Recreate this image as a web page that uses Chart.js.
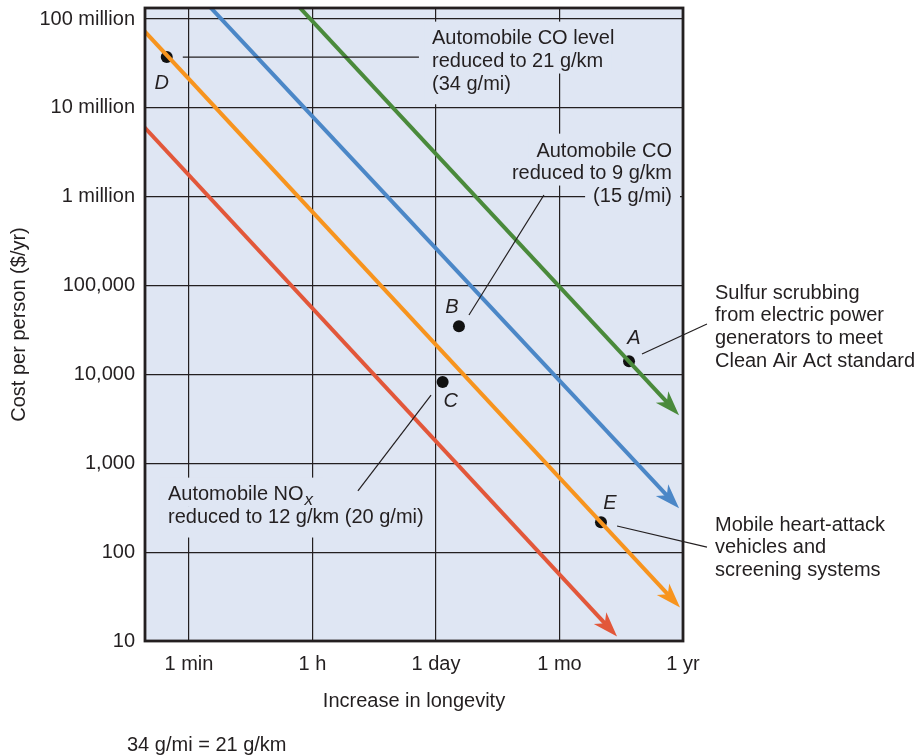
<!DOCTYPE html>
<html>
<head>
<meta charset="utf-8">
<script src="https://cdn.jsdelivr.net/npm/chart.js@4.4.1/dist/chart.umd.min.js"></script>
<style>
  html, body { margin: 0; padding: 0; background: #ffffff; }
  #wrap { position: relative; width: 918px; height: 755px; }
</style>
</head>
<body>
<div id="wrap"><canvas id="chart"></canvas></div>
<script>
// x axis: evenly spaced time steps (0 = 1 min ... 4 = 1 yr)
var timeLabels = ['1 min', '1 h', '1 day', '1 mo', '1 yr'];
var costTicks = [10, 100, 1000, 10000, 100000, 1000000, 10000000, 100000000];
var costLabels = ['10', '100', '1,000', '10,000', '100,000', '1 million', '10 million', '100 million'];

// the four cost lines (start, end of arrow shaft)
var greenX = [0.85, 3.913];
var greenY = [1.58e8, 4200];
var blueX = [0.13, 3.913];
var blueY = [1.57e8, 376];
var orangeX = [-0.40, 3.921];
var orangeY = [8.36e7, 28.8];
var redX = [-0.40, 3.411];
var redY = [6.93e6, 13.6];

// labelled points
var pointNames = ['A', 'B', 'C', 'D', 'E'];
var pointX = [3.563, 2.186, 2.054, -0.18, 3.336];
var pointY = [14100, 34900, 8240, 3.73e7, 217];

const FONT = '"Liberation Sans", Arial, Helvetica, sans-serif';
const INK = '#231f20';
const BG = '#dfe6f3';
const LINE_H = 22.7;

// letter offsets from the dot, in px
var letterOffset = { A: [5, -23], B: [-7, -19], C: [8, 20], D: [-5, 26], E: [9, -19] };

var notes = [
  { x: 1.968, y: 5.96e7, align: 'left', mask: true, lines: ['Automobile CO level', 'reduced to 21 g/km', '(34 g/mi)'] },
  { x: 3.911, y: 3.27e6, align: 'right', mask: true, lines: ['Automobile CO', 'reduced to 9 g/km', '(15 g/mi)'] },
  { x: -0.170, y: 440, align: 'left', mask: true, sub: 'x', lines: ['Automobile NO', 'reduced to 12 g/km (20 g/mi)'] },
  { x: 4.259, y: 82400, align: 'left', mask: false, lines: ['Sulfur scrubbing', 'from electric power', 'generators to meet', 'Clean Air Act standard'] },
  { x: 4.259, y: 202, align: 'left', mask: false, lines: ['Mobile heart-attack', 'vehicles and', 'screening systems'] }
];

var leaders = [
  [-0.05, 3.73e7, 1.862, 3.73e7],
  [2.267, 46700, 2.874, 1.045e6],
  [3.668, 17000, 4.194, 36900],
  [3.466, 197, 4.194, 114],
  [1.960, 5860, 1.368, 488]
];

function toXY(xs, ys) {
  var out = [];
  for (var i = 0; i < xs.length; i++) out.push({ x: xs[i], y: ys[i] });
  return out;
}

function lineSet(xs, ys, color) {
  return {
    type: 'line',
    data: toXY(xs, ys),
    borderColor: color,
    backgroundColor: color,
    borderWidth: 4,
    pointRadius: 0,
    borderCapStyle: 'butt',
    clip: 0,
    arrow: true
  };
}

function noPad(scale) {
  scale.paddingTop = 0;
  scale.paddingBottom = 0;
  scale.paddingLeft = 0;
  scale.paddingRight = 0;
}

const notesPlugin = {
  id: 'notes',
  beforeDraw(chart) {
    const a = chart.chartArea, ctx = chart.ctx;
    ctx.save();
    ctx.fillStyle = BG;
    ctx.fillRect(a.left, a.top, a.right - a.left, a.bottom - a.top);
    ctx.restore();
  },
  beforeDatasetsDraw(chart) {
    const ctx = chart.ctx, sx = chart.scales.x, sy = chart.scales.y;
    ctx.save();
    ctx.font = '20px ' + FONT;
    ctx.textBaseline = 'middle';
    notes.forEach(function (n) {
      const x0 = sx.getPixelForValue(n.x);
      const y0 = sy.getPixelForValue(n.y);
      const last = n.lines.length - 1;
      if (n.mask) {
        ctx.fillStyle = BG;
        n.lines.forEach(function (t, i) {
          let w = ctx.measureText(t).width + (n.sub && i === 0 ? 12 : 0);
          let left = n.align === 'left' ? x0 - 8 : x0 - w - 8;
          let top = y0 + i * LINE_H - LINE_H / 2 - (i === 0 ? 6 : 0);
          let h = LINE_H + (i === 0 ? 6 : 0) + (i === last ? 8 : 0);
          ctx.fillRect(left, top, w + 16, h + 0.5);
        });
      }
      ctx.fillStyle = INK;
      ctx.textAlign = n.align;
      n.lines.forEach(function (t, i) {
        ctx.fillText(t, x0, y0 + i * LINE_H);
        if (n.sub && i === 0) {
          const w = ctx.measureText(t).width;
          ctx.font = 'italic 17px ' + FONT;
          ctx.textAlign = 'left';
          ctx.fillText(n.sub, x0 + w + 1, y0 + 5);
          ctx.font = '20px ' + FONT;
          ctx.textAlign = n.align;
        }
      });
    });
    ctx.restore();
  },
  afterDatasetsDraw(chart) {
    const ctx = chart.ctx, sx = chart.scales.x, sy = chart.scales.y, a = chart.chartArea;
    ctx.save();

    // arrowheads
    chart.data.datasets.forEach(function (ds, i) {
      if (!ds.arrow) return;
      const pts = chart.getDatasetMeta(i).data;
      const p1 = pts[pts.length - 2], p2 = pts[pts.length - 1];
      let dx = p2.x - p1.x, dy = p2.y - p1.y;
      const len = Math.sqrt(dx * dx + dy * dy);
      dx /= len; dy /= len;
      const tx = p2.x + dx * 10, ty = p2.y + dy * 10;
      const L = 25, W = 8.5, notch = 7;
      const bx = tx - dx * L, by = ty - dy * L;
      ctx.fillStyle = ds.borderColor;
      ctx.beginPath();
      ctx.moveTo(tx, ty);
      ctx.lineTo(bx - dy * W, by + dx * W);
      ctx.lineTo(tx - dx * (L - notch), ty - dy * (L - notch));
      ctx.lineTo(bx + dy * W, by - dx * W);
      ctx.closePath();
      ctx.fill();
    });

    // leader lines
    ctx.strokeStyle = INK;
    ctx.lineWidth = 1.2;
    leaders.forEach(function (l) {
      ctx.beginPath();
      ctx.moveTo(sx.getPixelForValue(l[0]), sy.getPixelForValue(l[1]));
      ctx.lineTo(sx.getPixelForValue(l[2]), sy.getPixelForValue(l[3]));
      ctx.stroke();
    });

    // point letters
    ctx.fillStyle = INK;
    ctx.font = 'italic 20px ' + FONT;
    ctx.textAlign = 'center';
    ctx.textBaseline = 'middle';
    pointNames.forEach(function (name, i) {
      const off = letterOffset[name];
      ctx.fillText(name, sx.getPixelForValue(pointX[i]) + off[0], sy.getPixelForValue(pointY[i]) + off[1]);
    });

    // frame
    ctx.strokeStyle = INK;
    ctx.lineWidth = 2.8;
    ctx.strokeRect(a.left, a.top, a.right - a.left, a.bottom - a.top);

    // footnote
    ctx.font = '20px ' + FONT;
    ctx.textAlign = 'left';
    ctx.fillText('34 g/mi = 21 g/km', 127, 745);
    ctx.restore();
  }
};

var ctx = document.getElementById('chart');
var myChart = new Chart(ctx, {
  data: {
    datasets: [
      lineSet(redX, redY, '#e2573a'),
      lineSet(orangeX, orangeY, '#f7941e'),
      lineSet(blueX, blueY, '#4b87c7'),
      lineSet(greenX, greenY, '#4a8a3b'),
      {
        type: 'scatter',
        data: toXY(pointX, pointY),
        pointRadius: 6,
        pointBackgroundColor: '#111111',
        pointBorderWidth: 0,
        clip: false
      }
    ]
  },
  options: {
    responsive: true,
    maintainAspectRatio: false,
    animation: false,
    layout: { padding: { top: 8, right: 235, bottom: 0, left: 0 } },
    plugins: { legend: { display: false }, tooltip: { enabled: false } },
    scales: {
      x: {
        type: 'linear',
        min: -0.356,
        max: 4,
        afterBuildTicks: function (scale) {
          scale.ticks = timeLabels.map(function (t, i) { return { value: i }; });
        },
        afterFit: function (scale) { scale.height = 114; noPad(scale); },
        grid: { color: INK, lineWidth: 1.2, drawTicks: false },
        border: { display: false },
        ticks: {
          autoSkip: false,
          maxRotation: 0,
          padding: 11,
          color: INK,
          font: { family: FONT, size: 20 },
          callback: function (v) { return timeLabels[v]; }
        },
        title: {
          display: true,
          text: 'Increase in longevity',
          color: INK,
          font: { family: FONT, size: 20 },
          padding: { top: 0, bottom: 42 }
        }
      },
      y: {
        type: 'logarithmic',
        min: 10,
        max: 1.33e8,
        afterBuildTicks: function (scale) {
          scale.ticks = costTicks.map(function (v) { return { value: v }; });
        },
        afterFit: function (scale) { scale.width = 145; noPad(scale); },
        grid: { color: INK, lineWidth: 1.2, drawTicks: false },
        border: { display: false },
        ticks: {
          autoSkip: false,
          padding: 10,
          color: INK,
          font: { family: FONT, size: 20 },
          callback: function (v, i) { return costLabels[i]; }
        },
        title: {
          display: true,
          text: 'Cost per person ($/yr)',
          color: INK,
          font: { family: FONT, size: 20 },
          padding: { top: 7, bottom: 0 }
        }
      }
    }
  },
  plugins: [notesPlugin]
});
</script>
</body>
</html>
